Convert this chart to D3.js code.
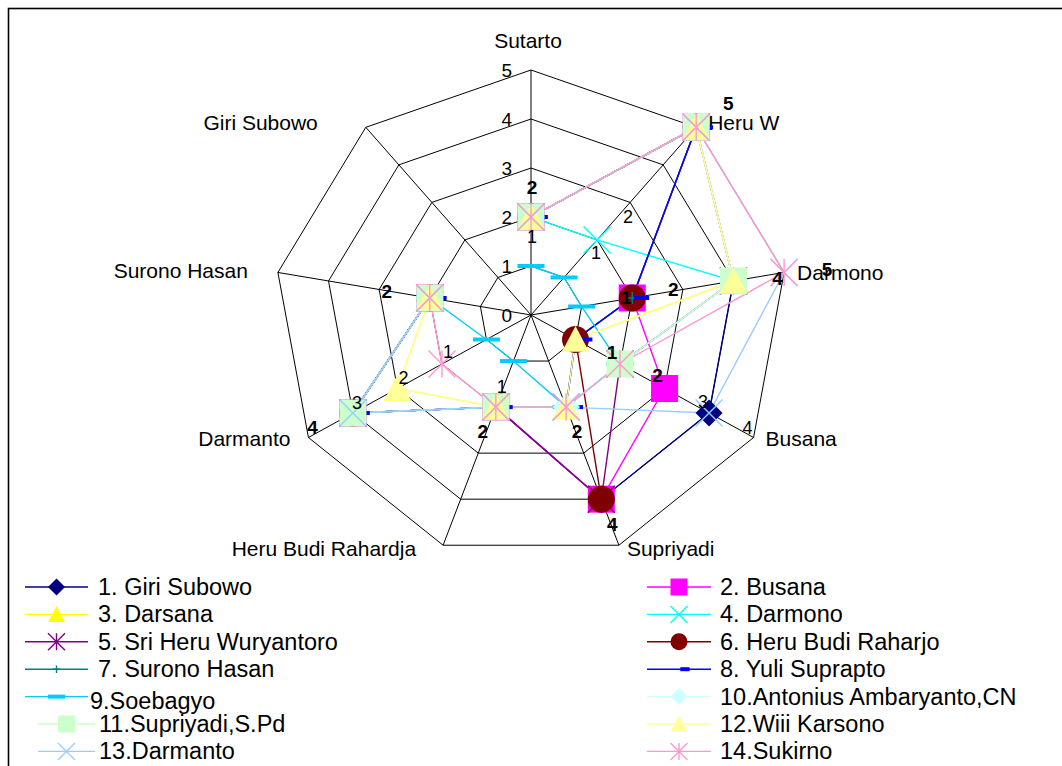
<!DOCTYPE html>
<html><head><meta charset="utf-8">
<script src="https://cdn.jsdelivr.net/npm/d3@7"></script>
<style>
body{margin:0;background:#fff;}
svg{display:block;}
text{font-family:"Liberation Sans",Arial,sans-serif;fill:#000;}
</style>
</head><body>
<svg id="chart" width="1062" height="766"></svg>
<script>
// ---------- DATA ----------
const categories = ["Sutarto","Heru W","Darmono","Busana","Supriyadi","Heru Budi Rahardja","Darmanto","Surono Hasan","Giri Subowo"];
const tickValues = [0,1,2,3,4,5];
const seriesNames = ["1. Giri Subowo","2. Busana","3. Darsana","4. Darmono","5. Sri Heru Wuryantoro","6. Heru Budi Raharjo","7. Surono Hasan","8. Yuli Suprapto","9.Soebagyo","10.Antonius Ambaryanto,CN","11.Supriyadi,S.Pd","12.Wiii Karsono","13.Darmanto","14.Sukirno"];
const giriSubowo   = [2,5,4,4,4,2,4,2,null];
const busana       = [2,5,2,3,4,2,4,2,null];
const darsana      = [2,5,4,1,2,2,3,2,null];
const darmono      = [2,2,4,2,2,2,4,2,null];
const sriHeru      = [2,5,4,2,4,2,4,2,null];
const heruBudi     = [2,5,2,1,4,null,4,2,null];
const suronoHasan  = [2,5,2,1,2,2,4,2,null];
const yuliSuprapto = [2,5,2,1,2,2,4,2,null];
const soebagyo     = [1,1,1,2,2,1,1,2,null];
const antonius     = [2,5,4,2,2,2,4,2,null];
const supriyadi    = [2,5,4,2,null,2,4,2,null];
const wiiiKarsono  = [2,5,4,1,2,2,3,2,null];
const darmanto     = [2,5,5,4,2,2,4,2,null];
const sukirno      = [2,5,5,2,2,2,2,2,null];
// data labels: text, category index, value it sits near
const labelTexts  = ["2","5","5","4","2","1","1","2","3","4","4","2","2","1","1","2","3","4","2","1","1","2"];
const labelAxis   = [0,1,2,2,2,2,3,3,3,3,4,4,5,5,6,6,6,6,7,0,1,1];
const labelValue  = [2,5,5,4,2,2,2,3,4,5,4,2,2,2,2,3,4,5,2,2,2,3];
const labelBold   = [1,1,1,1,1,1,1,1,0,0,1,1,1,0,0,0,0,1,1,0,0,0];

// ---------- STYLE / LAYOUT ----------
const allValues = [giriSubowo,busana,darsana,darmono,sriHeru,heruBudi,suronoHasan,yuliSuprapto,soebagyo,antonius,supriyadi,wiiiKarsono,darmanto,sukirno];
const colors  = ["#000080","#FF00FF","#FFFF00","#00FFFF","#800080","#800000","#008080","#0000FF","#00CCFF","#CCFFFF","#CCFFCC","#FFFF99","#99CCFF","#FF99CC"];
const markers = ["diamond","square","triangle","x","star","circle","plus","shortdash","longdash","diamond","square","triangle","x","star"];
const labelOffsets = [[1,-30],[32,-24],[43,-3],[44,-2],[41,-8],[-6,0],[-8,-12],[-7,-13],[-6,-11],[-6,-10],[11,25],[11,24],[-13,24],[6,-20],[6,-12],[6,-11],[4,-10],[4,-10],[-43,-6],[1,20],[-1,13],[-2,15]];
const catLabelLayout = [[-3,-30,"middle"],[12,-5,"start"],[13,0,"start"],[12,1,"start"],[8,3,"start"],[-27,3,"end"],[-18,1,"end"],[-30,-2,"end"],[-48,-5,"end"]];
// legend row layout: [lineStart, lineEnd, textX, yShift] per column
const legendLeft  = [[25,88,98,0],[25,88,98,0],[25,88,98,0],[25,88,98,0],[25,88,90,4],[38,95,99,0],[38,95,99,0]];
const legendRight = [[647,711,720,0],[647,711,720,0],[647,711,720,0],[647,711,720,0],[647,711,720,0],[647,711,720,0],[647,711,720,0]];

const svg = d3.select("#chart");
const cx = 531, cy = 315;
const rx = d3.scaleLinear().domain([0,5]).range([0,257]);
const ry = d3.scaleLinear().domain([0,5]).range([0,245]);
const ang = d3.scaleLinear().domain([0,categories.length]).range([0,2*Math.PI]);
const px = (i,v)=> cx + rx(v)*Math.sin(ang(i));
const py = (i,v)=> cy - ry(v)*Math.cos(ang(i));

// frame
svg.append("rect").attr("x",8.5).attr("y",8.5).attr("width",1056).attr("height",800)
  .attr("fill","none").attr("stroke","#000").attr("stroke-width",1.6);

// grid rings
const ringLine = d3.line().x(d=>d[0]).y(d=>d[1]).curve(d3.curveLinearClosed);
tickValues.filter(t=>t>0).forEach(t=>{
  svg.append("path").attr("d", ringLine(categories.map((c,i)=>[px(i,t),py(i,t)])))
    .attr("fill","none").attr("stroke","#000").attr("stroke-width",1);
});
categories.forEach((c,i)=>{
  svg.append("line").attr("x1",cx).attr("y1",cy).attr("x2",px(i,5)).attr("y2",py(i,5))
    .attr("stroke","#000").attr("stroke-width",1);
});
// tick labels
tickValues.forEach(t=>{
  svg.append("text").attr("x",cx-19).attr("y",py(0,t)).attr("text-anchor","end")
    .attr("dominant-baseline","central").attr("font-size",19).text(t);
});
// category labels
categories.forEach((c,i)=>{
  const L = catLabelLayout[i];
  svg.append("text").attr("x",px(i,5)+L[0]).attr("y",py(i,5)+L[1]).attr("text-anchor",L[2])
    .attr("dominant-baseline","central").attr("font-size",21).text(c);
});

// series lines
const seriesLine = d3.line().defined(d=>d.v!==null).x(d=>px(d.i,d.v)).y(d=>py(d.i,d.v));
allValues.forEach((vals,s)=>{
  const pts = vals.map((v,i)=>({i,v}));
  pts.push({i:0,v:vals[0]});
  svg.append("path").attr("d",seriesLine(pts)).attr("fill","none")
    .attr("stroke",colors[s]).attr("stroke-width",1.4);
});

// marker drawing
function drawMarker(g,type,x,y,col,sz){
  const h = sz/2;
  if(type==="diamond"){
    g.append("path").attr("d",`M${x},${y-h}L${x+h},${y}L${x},${y+h}L${x-h},${y}Z`).attr("fill",col);
  } else if(type==="square"){
    g.append("rect").attr("x",x-h).attr("y",y-h).attr("width",sz).attr("height",sz).attr("fill",col);
  } else if(type==="triangle"){
    g.append("path").attr("d",`M${x},${y-h}L${x+h},${y+h*0.9}L${x-h},${y+h*0.9}Z`).attr("fill",col);
  } else if(type==="circle"){
    g.append("circle").attr("cx",x).attr("cy",y).attr("r",h).attr("fill",col);
  } else if(type==="x"){
    g.append("path").attr("d",`M${x-h},${y-h}L${x+h},${y+h}M${x-h},${y+h}L${x+h},${y-h}`).attr("stroke",col).attr("stroke-width",1.4);
  } else if(type==="star"){
    g.append("path").attr("d",`M${x-h},${y-h}L${x+h},${y+h}M${x-h},${y+h}L${x+h},${y-h}M${x},${y-h}L${x},${y+h}`).attr("stroke",col).attr("stroke-width",1.4);
  } else if(type==="plus"){
    const p = h*0.45;
    g.append("path").attr("d",`M${x-p},${y}L${x+p},${y}M${x},${y-p}L${x},${y+p}`).attr("stroke",col).attr("stroke-width",1.4);
  } else if(type==="shortdash"){
    g.append("rect").attr("x",x+h*0.15).attr("y",y-2).attr("width",h*1.1).attr("height",4).attr("fill",col);
  } else if(type==="longdash"){
    g.append("rect").attr("x",x-h).attr("y",y-2).attr("width",sz).attr("height",4).attr("fill",col);
  }
}
const mg = svg.append("g");
allValues.forEach((vals,s)=>{
  vals.forEach((v,i)=>{
    if(v===null) return;
    drawMarker(mg,markers[s],px(i,v),py(i,v),colors[s],27);
  });
});

// data labels
labelTexts.forEach((t,k)=>{
  svg.append("text").attr("x",px(labelAxis[k],labelValue[k])+labelOffsets[k][0])
    .attr("y",py(labelAxis[k],labelValue[k])+labelOffsets[k][1])
    .attr("text-anchor","middle").attr("dominant-baseline","central")
    .attr("font-size",labelBold[k]?19:18).attr("font-weight",labelBold[k]?"bold":"normal").text(t);
});

// legend
const lg = svg.append("g");
seriesNames.forEach((name,s)=>{
  const col = s%2, row = Math.floor(s/2);
  const L = col===0 ? legendLeft[row] : legendRight[row];
  const y = 587 + row*27.4;
  lg.append("line").attr("x1",L[0]).attr("x2",L[1]).attr("y1",y).attr("y2",y).attr("stroke",colors[s]).attr("stroke-width",1.4);
  drawMarker(lg,markers[s],(L[0]+L[1])/2,y,colors[s],17);
  lg.append("text").attr("x",L[2]).attr("y",y+L[3]).attr("dominant-baseline","central").attr("font-size",23.5).text(name);
});
</script>
</body></html>
